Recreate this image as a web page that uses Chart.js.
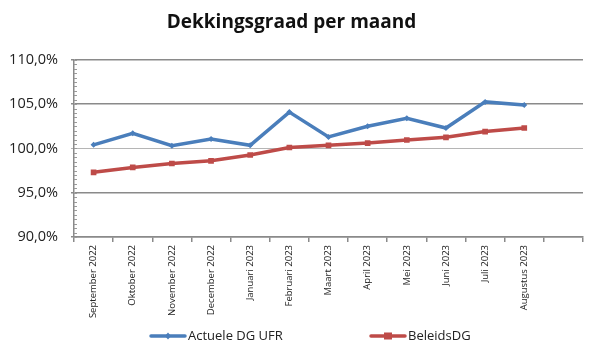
<!DOCTYPE html>
<html><head><meta charset="utf-8">
<script src="https://cdn.jsdelivr.net/npm/chart.js@4/dist/chart.umd.min.js"></script>
<style>html,body{margin:0;padding:0;background:#fff;}#wrap{width:600px;height:357px;}</style>
</head><body><div id="wrap"><canvas id="c" width="600" height="357"></canvas></div>
<script>
const categories = ["September 2022","Oktober 2022","November 2022","December 2022","Januari 2023","Februari 2023","Maart 2023","April 2023","Mei 2023","Juni 2023","Juli 2023","Augustus 2023",""];
const actueleDG = [100.4,101.7,100.3,101.05,100.35,104.1,101.3,102.5,103.4,102.3,105.25,104.9];
const beleidsDG = [97.3,97.85,98.3,98.6,99.25,100.1,100.35,100.6,100.95,101.25,101.9,102.3];
const yTicks = [90,95,100,105,110];
const seriesNames = ['Actuele DG UFR','BeleidsDG'];

const BLUE = '#4A7EBB', RED = '#BE4B48';
const FONT = '"Open Sans", sans-serif';

function drawMarker(g, shape, x, y, color){
  g.fillStyle = color;
  if (shape === 'rect') { g.fillRect(x-4, y-3.5, 8, 7); }
  else { g.beginPath(); g.moveTo(x,y-3.5); g.lineTo(x+3,y); g.lineTo(x,y+3.5); g.lineTo(x-3,y); g.closePath(); g.fill(); }
}

const minorTicks = {
  id:'minorTicks',
  afterDatasetsDraw(chart){
    const y = chart.scales.y, ctx = chart.ctx, left = chart.chartArea.left;
    ctx.save(); ctx.strokeStyle = '#9a9a9a'; ctx.lineWidth = 1;
    for (let v = 90; v <= 110.001; v += 0.5){
      const p = Math.round(y.getPixelForValue(v)) + 0.5;
      ctx.beginPath(); ctx.moveTo(left, p); ctx.lineTo(left+3, p); ctx.stroke();
    }
    ctx.restore();
  }
};

const customLegend = {
  id:'customLegend',
  afterDraw(chart){
    const ctx = chart.ctx;
    const items = [{x:150, shape:'diamond'},{x:370, shape:'rect'}];
    const yy = 336;
    ctx.save();
    chart.data.datasets.forEach((d,i)=>{
      const it = items[i];
      ctx.strokeStyle = d.borderColor; ctx.lineWidth = 3.5; ctx.lineCap = 'round';
      ctx.beginPath(); ctx.moveTo(it.x+1, yy); ctx.lineTo(it.x+35, yy); ctx.stroke();
      drawMarker(ctx, it.shape, it.x+18, yy, d.borderColor);
      ctx.fillStyle = '#222'; ctx.font = '13px ' + FONT; ctx.textBaseline = 'middle'; ctx.textAlign = 'left';
      ctx.fillText(d.label, it.x+38, yy);
    });
    ctx.restore();
  }
};

new Chart(document.getElementById('c'), {
  type:'line',
  data:{
    labels: categories,
    datasets:[
      {label:seriesNames[0], data: actueleDG, borderColor: BLUE, backgroundColor: BLUE, borderWidth:3.5,
       pointStyle:'rectRot', pointRadius:3, pointBorderWidth:0, tension:0},
      {label:seriesNames[1], data: beleidsDG, borderColor: RED, backgroundColor: RED, borderWidth:3.5,
       pointStyle:'rect', pointRadius:4, pointBorderWidth:0, tension:0}
    ]
  },
  options:{
    responsive:false, animation:false, devicePixelRatio:1,
    layout:{padding:{left:0,right:17,top:0,bottom:38}},
    plugins:{
      title:{display:true, text:'Dekkingsgraad per maand', color:'#111',
        font:{family:FONT, size:19, weight:'bold'}, padding:{top:11,bottom:26}},
      legend:{display:false},
      tooltip:{enabled:false}
    },
    scales:{
      x:{offset:true,
        grid:{offset:true, drawOnChartArea:false, drawTicks:true, tickLength:5, color:'#8a8a8a', lineWidth:1.5},
        border:{color:'#8a8a8a', width:1.5},
        ticks:{autoSkip:false, minRotation:90, maxRotation:90, padding:3, color:'#222',
          font:{family:FONT, size:9.5}},
        afterFit(s){ s.height = 82; }
      },
      y:{min:90, max:110, afterBuildTicks(s){ s.ticks = yTicks.map(v=>({value:v})); },
        grid:{color:(c)=> c.tick && c.tick.value===100 ? '#b5b5b5' : '#8a8a8a',
              lineWidth:(c)=> c.tick && c.tick.value===100 ? 1 : 1.5, tickLength:3},
        border:{color:'#8a8a8a', width:1.5},
        ticks:{padding:13, color:'#222', font:{family:FONT, size:14.5},
          callback:(v)=> v.toFixed(1).replace('.',',')+'%'},
        afterFit(s){ s.width = 74; }
      }
    }
  },
  plugins:[minorTicks, customLegend]
});
</script></body></html>
